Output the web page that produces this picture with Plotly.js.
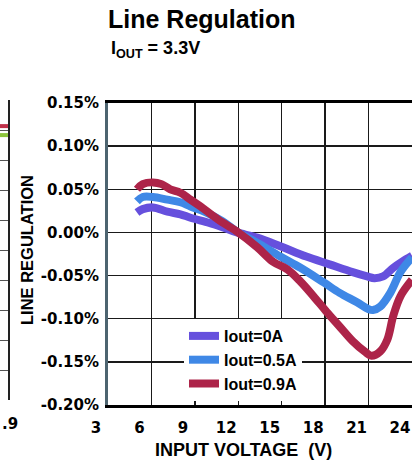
<!DOCTYPE html>
<html>
<head>
<meta charset="utf-8">
<script src="https://cdn.plot.ly/plotly-3.0.1.min.js"></script>
<style>
html,body{margin:0;padding:0;overflow:hidden;background:#fff;}
#chart{width:412px;height:464px;}
</style>
</head>
<body>
<div id="chart"></div>
<script>
// ---- data (input voltage in V, line regulation in %) ----
const seriesNames = ['Iout=0A', 'Iout=0.5A', 'Iout=0.9A'];
const seriesColors = ['#6650dd', '#3f88e6', '#ad2449'];

const vin0A  = [5.0, 5.4, 6.1, 7.1, 8.0, 8.7, 10.0, 10.9, 11.9, 13.3, 14.9, 16.7, 18.3, 19.9, 20.9, 21.4, 22.0, 22.7, 23.3, 24.0];
const reg0A  = [0.023, 0.027, 0.029, 0.024, 0.021, 0.017, 0.011, 0.006, 0.000, -0.006, -0.016, -0.028, -0.037, -0.046, -0.051, -0.053, -0.051, -0.041, -0.034, -0.027];

const vin05A = [5.0, 5.4, 6.1, 7.1, 8.0, 8.7, 9.8, 10.9, 11.9, 13.3, 14.9, 16.3, 17.9, 19.0, 20.2, 21.0, 21.3, 21.8, 22.5, 23.2, 24.0];
const reg05A = [0.036, 0.041, 0.041, 0.038, 0.035, 0.030, 0.023, 0.013, 0.001, -0.012, -0.028, -0.041, -0.058, -0.070, -0.081, -0.089, -0.090, -0.086, -0.070, -0.046, -0.029];

const vin09A = [5.0, 5.4, 6.1, 6.7, 7.3, 8.0, 8.7, 9.4, 10.6, 12.0, 13.3, 14.4, 15.4, 16.3, 17.2, 18.1, 19.0, 19.9, 20.8, 21.2, 21.8, 22.3, 22.7, 23.2, 24.0];
const reg09A = [0.050, 0.056, 0.058, 0.056, 0.050, 0.046, 0.038, 0.030, 0.015, 0.000, -0.017, -0.034, -0.043, -0.057, -0.074, -0.092, -0.109, -0.126, -0.139, -0.143, -0.138, -0.124, -0.097, -0.074, -0.055];

const xTicks = [3, 6, 9, 12, 15, 18, 21, 24];
const yTicks = [-0.20, -0.15, -0.10, -0.05, 0.00, 0.05, 0.10, 0.15];

// remnant of the neighbouring chart at the left edge
const remX = [0, 1];
const remRed = [9.13, 9.13];
const remGreen = [8.83, 8.83];

const W = 412, H = 464;
const mt = 90, mb = 50;
const ph = H - mt - mb;
const py = p => (H - mb - p) / ph;

const xs = [vin0A, vin05A, vin09A];
const ys = [reg0A, reg05A, reg09A];

const traces = xs.map((x, i) => ({
  type: 'scatter', mode: 'lines', x: x, y: ys[i], name: seriesNames[i],
  line: {color: seriesColors[i], width: 8, shape: 'spline', smoothing: 1},
  xaxis: 'x', yaxis: 'y'
}));
traces.push({type:'scatter', mode:'lines', x: remX, y: remRed, showlegend:false,
  line:{color:'#c0304a', width:4}, xaxis:'x2', yaxis:'y2', hoverinfo:'skip'});
traces.push({type:'scatter', mode:'lines', x: remX, y: remGreen, showlegend:false,
  line:{color:'#8cc43c', width:4}, xaxis:'x2', yaxis:'y2', hoverinfo:'skip'});

const tickFont = {family: 'DejaVu Sans', size: 15, color: '#000', weight: 'bold'};

const layout = {
  width: W, height: H,
  margin: {l: 0, r: 0, t: mt, b: mb, pad: 0},
  paper_bgcolor: '#fff', plot_bgcolor: '#fff',
  showlegend: true,
  title: {
    text: 'Line Regulation',
    font: {family: 'Liberation Sans, Arial, sans-serif', size: 25, color: '#000', weight: 'bold'},
    xref: 'container', x: 108 / W, xanchor: 'left',
    yref: 'container', y: 1 - 19 / H, yanchor: 'middle'
  },
  xaxis: {
    domain: [108 / W, 1], anchor: 'y',
    range: [3, 24], tickmode: 'array', tickvals: xTicks, ticktext: xTicks.map(String),
    showgrid: true, gridcolor: '#1a1a1a', gridwidth: 1.4,
    zeroline: false, showline: true, linecolor: '#000', linewidth: 3, mirror: true,
    ticks: '', tickfont: tickFont, ticklabelstandoff: 7, ticklabelshift: -12,
    ticklabeloverflow: 'allow'
  },
  yaxis: {
    domain: [py(405), py(103)], anchor: 'x',
    range: [-0.20, 0.15], tickmode: 'array', tickvals: yTicks,
    ticktext: yTicks.map(v => v.toFixed(2) + '%'),
    showgrid: true, gridcolor: '#1a1a1a', gridwidth: 1.4,
    zeroline: false, showline: true, linecolor: '#4d6470', linewidth: 3, mirror: true,
    ticks: '', tickfont: tickFont, ticklabelstandoff: 3
  },
  xaxis2: {
    domain: [0, 8 / W], anchor: 'y2', range: [0, 1],
    showgrid: false, zeroline: false, showline: false, showticklabels: false, ticks: ''
  },
  yaxis2: {
    domain: [py(400), py(100)], anchor: 'x2', side: 'right', range: [0, 10], dtick: 1,
    showgrid: true, gridcolor: '#555', gridwidth: 1,
    zeroline: false, showline: true, linecolor: '#222', linewidth: 2,
    showticklabels: false, ticks: ''
  },
  legend: {
    x: 184 / W, xanchor: 'left', y: py(319), yanchor: 'top',
    bgcolor: '#fff', borderwidth: 0,
    font: {family: 'Liberation Sans, Arial, sans-serif', size: 16, color: '#000', weight: 'bold'},
    traceorder: 'normal', itemwidth: 30
  },
  annotations: [
    {text: 'I<sub>OUT</sub> = 3.3V', xref: 'paper', yref: 'paper', x: 109 / W, xanchor: 'left',
     y: py(49), yanchor: 'middle', showarrow: false,
     font: {family: 'Liberation Sans, Arial, sans-serif', size: 18, color: '#000', weight: 'bold'}},
    {text: 'INPUT VOLTAGE&nbsp; (V)', xref: 'paper', yref: 'paper', x: 243.5 / W, xanchor: 'center',
     y: py(450), yanchor: 'middle', showarrow: false,
     font: {family: 'Liberation Sans, Arial, sans-serif', size: 18, color: '#000', weight: 'bold'}},
    {text: 'LINE REGULATION', xref: 'paper', yref: 'paper', x: 27 / W, xanchor: 'center',
     y: py(250), yanchor: 'middle', showarrow: false, textangle: -90,
     font: {family: 'Liberation Sans, Arial, sans-serif', size: 16.5, color: '#000', weight: 'bold'}},
    {text: '.9', xref: 'paper', yref: 'paper', x: 0, xanchor: 'left',
     y: py(424), yanchor: 'middle', showarrow: false,
     font: tickFont}
  ]
};

Plotly.newPlot('chart', traces, layout, {staticPlot: true, displayModeBar: false});
</script>
</body>
</html>
